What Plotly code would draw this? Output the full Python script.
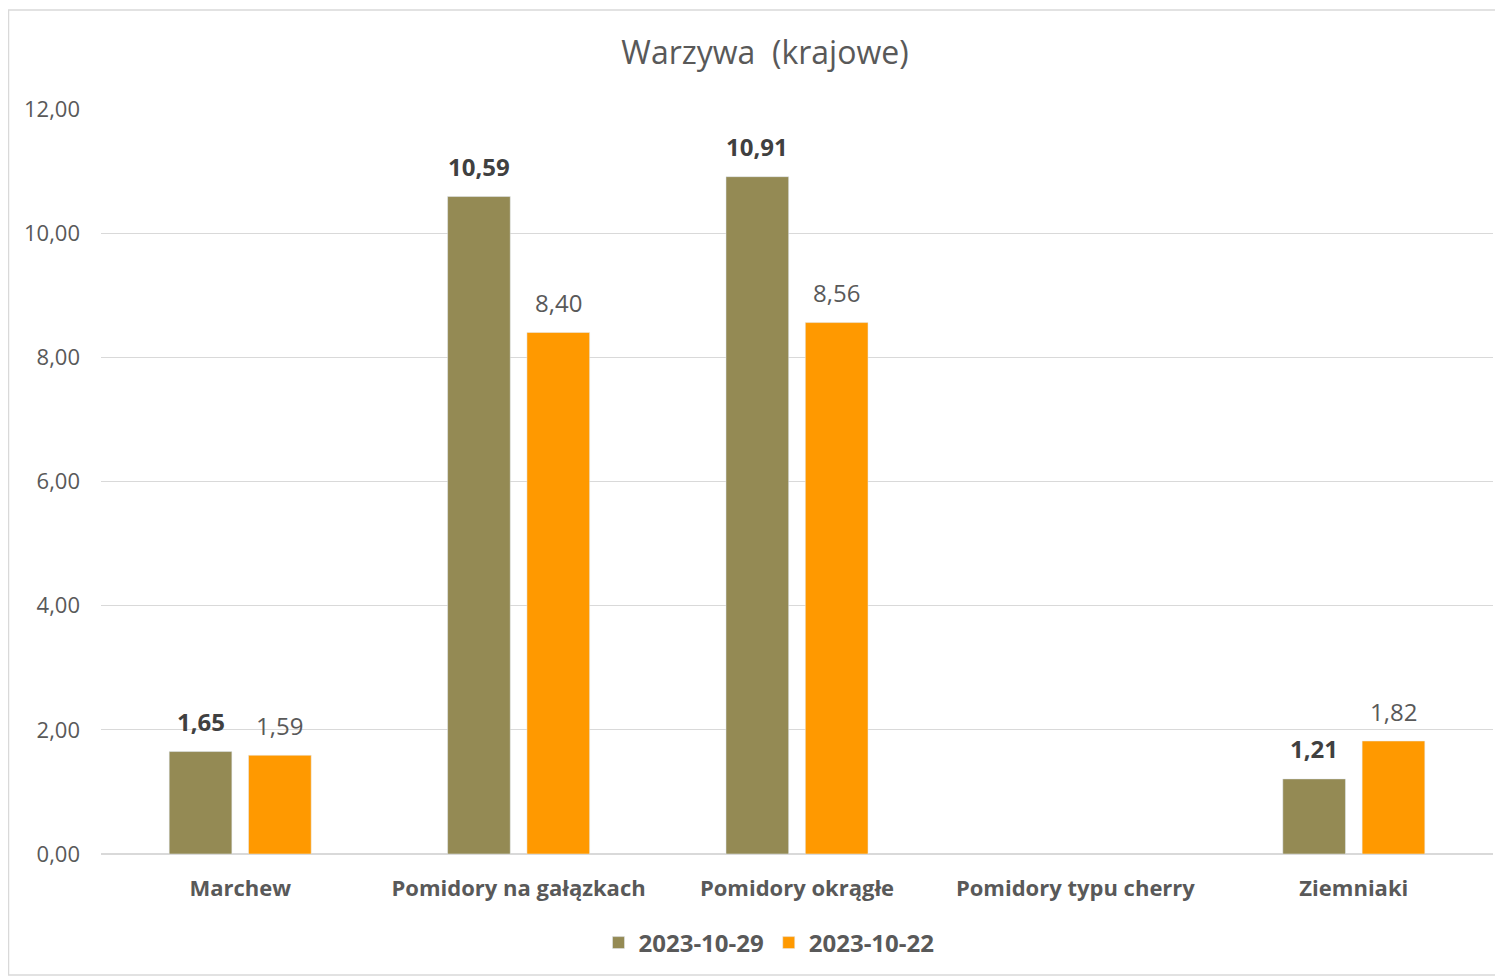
import plotly.graph_objects as go

categories = ["Marchew", "Pomidory na gałązkach", "Pomidory okrągłe", "Pomidory typu cherry", "Ziemniaki"]
series_names = ["2023-10-29", "2023-10-22"]
values_1029 = [1.65, 10.59, 10.91, None, 1.21]
values_1022 = [1.59, 8.40, 8.56, None, 1.82]
tick_values = [0, 2, 4, 6, 8, 10, 12]
tick_labels = ["0,00", "2,00", "4,00", "6,00", "8,00", "10,00", "12,00"]

FONT = "'Open Sans', 'Noto Sans', sans-serif"
# page body has an 8px margin, so figure coords = screen coords - 8
W, H = 1495, 969
ml, mr, mt, mb = 93, 10, 101, 123
BARGAP, GROUPGAP = 0.43, 0.21

colors = ["#948A54", "#FF9900"]
label_colors = ["#404040", "#595959"]
series_values = [values_1029, values_1022]

fig = go.Figure()
for name, vals, col in zip(series_names, series_values, colors):
    fig.add_trace(go.Bar(x=categories, y=vals, name="<b>" + name + "</b>",
                         marker=dict(color=col)))

pw = W - ml - mr
ph = H - mt - mb
slot = pw / len(categories) * (1 - BARGAP) / 2
for i, (vals, lc) in enumerate(zip(series_values, label_colors)):
    shift = (i - 0.5) * slot
    for cat, v in zip(categories, vals):
        if v is None:
            continue
        txt = f"{v:.2f}".replace(".", ",")
        if i == 0:
            txt = "<b>" + txt + "</b>"
        fig.add_annotation(x=cat, y=v, xref="x", yref="y", text=txt, showarrow=False,
                           xshift=shift, yshift=30, yanchor="middle",
                           font=dict(family=FONT, size=24, color=lc))

fig.add_shape(type="rect", xref="paper", yref="paper",
              x0=(0.5 - ml) / pw, x1=(W + 4 - ml) / pw,
              y0=-(H - 2 - mt - ph) / ph, y1=1 + (mt - 2) / ph,
              line=dict(color="#D9D9D9", width=1.5), fillcolor="rgba(0,0,0,0)", layer="below")

fig.update_layout(
    width=W, height=H,
    margin=dict(l=ml, r=mr, t=mt, b=mb),
    paper_bgcolor="white", plot_bgcolor="white",
    separators=", ",
    barmode="group", bargap=BARGAP, bargroupgap=GROUPGAP,
    title=dict(text="Warzywa  (krajowe)", x=(765 - 8) / W, xanchor="center",
               y=1 - (53 - 8) / H, yanchor="middle",
               font=dict(family=FONT, size=32, color="#595959")),
    font=dict(family=FONT, color="#595959"),
    xaxis=dict(tickfont=dict(family=FONT, size=22, color="#595959"), showline=False,
               ticks="", tickprefix="<b>", ticksuffix="</b>", ticklabelstandoff=19),
    yaxis=dict(range=[0, 12], tickvals=tick_values, ticktext=tick_labels,
               gridcolor="#D9D9D9", gridwidth=1, zeroline=True, zerolinecolor="#D9D9D9",
               tickfont=dict(family=FONT, size=22, color="#595959"), ticks="", ticklabelstandoff=20),
    legend=dict(orientation="h", x=(769 - 8 - ml) / pw, xanchor="center",
                y=-(943 - 8 - (mt + ph)) / ph, yanchor="middle",
                font=dict(family=FONT, size=24, color="#595959"), itemwidth=30,
                traceorder="normal"),
)

fig.write_html("out.html")
